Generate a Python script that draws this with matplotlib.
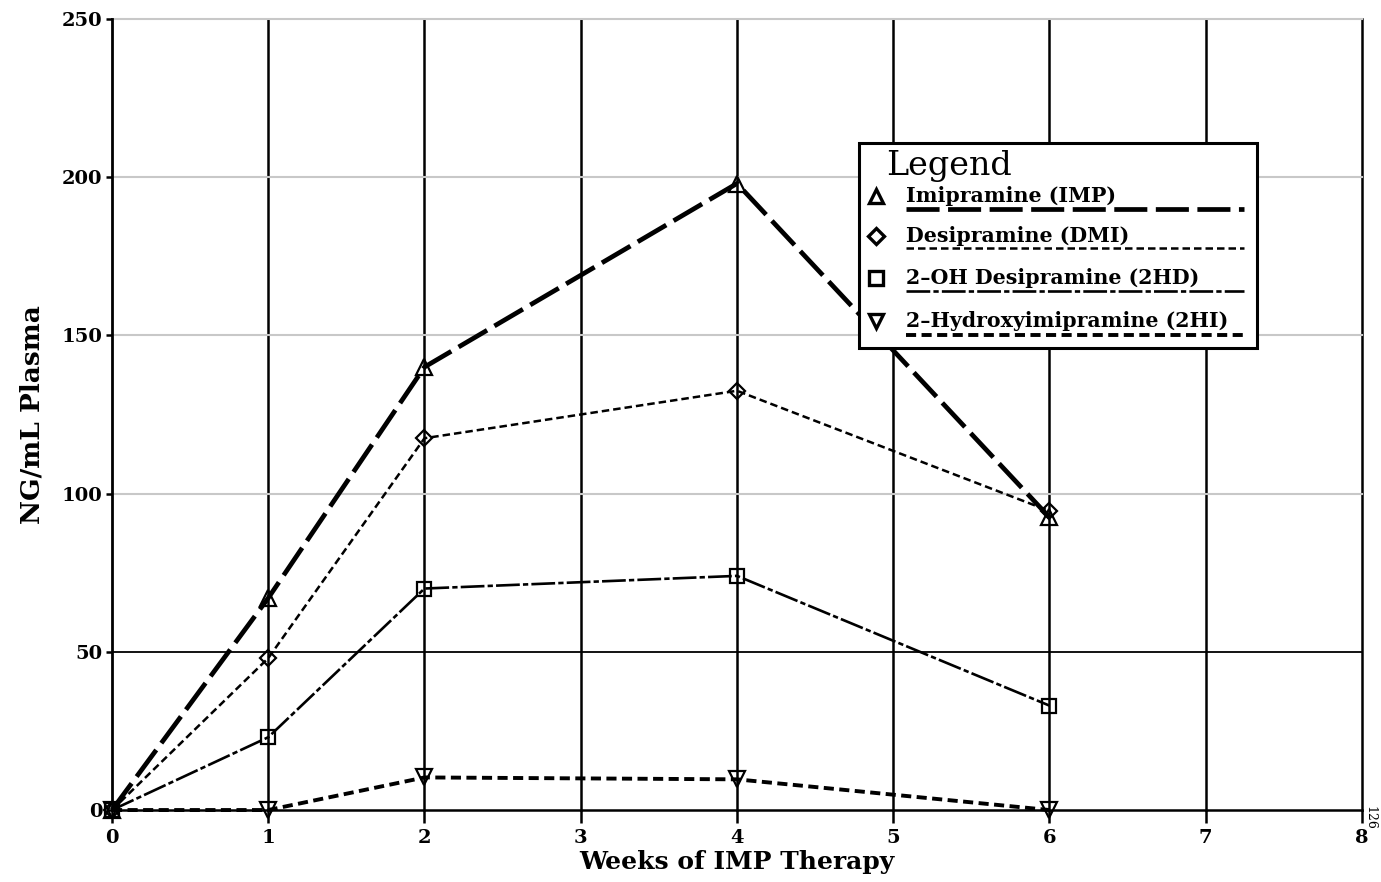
import matplotlib
matplotlib.use("Agg")
import matplotlib.pyplot as plt
from matplotlib.lines import Line2D
from matplotlib.patches import Rectangle

weeks = [0, 1, 2, 4, 6]
imp = [0, 67, 140, 198, 92.5]
dmi = [0, 48, 117.5, 132.5, 94.5]
ohd = [0, 23, 70, 74, 33]
ohi = [0, 0, 10.3, 9.7, 0]

series_names = ["Imipramine (IMP)", "Desipramine (DMI)",
                "2\u2013OH Desipramine (2HD)", "2\u2013Hydroxyimipramine (2HI)"]
x_ticks = [0, 1, 2, 3, 4, 5, 6, 7, 8]
y_ticks = [0, 50, 100, 150, 200, 250]

styles = [
    dict(marker="^", lw=3.4, dashes=(7, 1.8), ms=11),
    dict(marker="D", lw=1.8, dashes=(3, 1.6), ms=8.5),
    dict(marker="s", lw=1.9, dashes=(9, 1.2, 2, 1.2), ms=10.5),
    dict(marker="v", lw=2.8, dashes=(2.6, 1.4), ms=11),
]

serif = "DejaVu Serif"
fig = plt.figure(figsize=(13.81, 8.82), dpi=100)
ax = fig.add_axes([0.0811, 0.0816, 0.9051, 0.8969])
ax.set_xlim(0, 8)
ax.set_ylim(0, 250)

# grid: dark verticals, light horizontals (50 drawn dark)
for xv in x_ticks[1:]:
    ax.axvline(xv, color="black", lw=1.8, zorder=1, clip_on=False)
for yv in y_ticks[1:]:
    if yv == 50:
        ax.axhline(yv, color="black", lw=1.3, zorder=1)
    else:
        ax.axhline(yv, color="#c8c8c8", lw=1.5, zorder=1, clip_on=False)

for s in ["top", "right"]:
    ax.spines[s].set_visible(False)
ax.spines["left"].set_linewidth(2.0)
ax.spines["bottom"].set_linewidth(1.8)

for ys, st in zip([imp, dmi, ohd, ohi], styles):
    ax.plot(weeks, ys, color="black", lw=st["lw"], dashes=st["dashes"],
            marker=st["marker"], ms=st["ms"], mfc="none", mec="black",
            mew=1.6, zorder=3, clip_on=False)

ax.set_xticks(x_ticks)
ax.set_yticks(y_ticks)
ax.tick_params(axis="x", direction="out", length=9, width=1.8, pad=5)
ax.tick_params(axis="y", direction="out", length=4, width=1.8, pad=3)
for lab in ax.get_xticklabels() + ax.get_yticklabels():
    lab.set_fontfamily(serif)
    lab.set_fontweight("heavy")
    lab.set_fontsize(14)

ax.set_xlabel("Weeks of IMP Therapy", fontfamily=serif, fontweight="heavy",
              fontsize=18, labelpad=2)
ax.set_ylabel("NG/mL Plasma", fontfamily=serif, fontweight="heavy",
              fontsize=19, labelpad=12)

# legend panel
bx0, bx1, by0, by1 = 0.598, 0.916, 0.584, 0.843
ax.add_patch(Rectangle((bx0, by0), bx1 - bx0, by1 - by0, transform=ax.transAxes,
                       facecolor="white", edgecolor="black", lw=2.2, zorder=5))
ax.text(0.619, 0.814, "Legend", transform=ax.transAxes, fontfamily=serif,
        fontsize=24, va="center", ha="left", zorder=6)
row_text_y = [0.776, 0.726, 0.672, 0.618]
row_line_y = [0.760, 0.710, 0.656, 0.600]
for name, st, ty, ly in zip(series_names, styles, row_text_y, row_line_y):
    ax.plot([0.611], [ty], transform=ax.transAxes, marker=st["marker"],
            ms=st["ms"] * 0.95, mfc="none", mec="black", mew=2.4,
            ls="none", zorder=6)
    ax.text(0.635, ty, name, transform=ax.transAxes, fontfamily=serif,
            fontweight="bold", fontsize=14.8, va="center", ha="left", zorder=6)
    ax.add_line(Line2D([0.635, 0.906], [ly, ly], transform=ax.transAxes,
                       color="black", lw=st["lw"], dashes=st["dashes"], zorder=6))

fig.text(0.992, 0.073, "126", rotation=-90, fontsize=9, fontfamily=serif,
         ha="center", va="center")

fig.savefig("out.png", dpi=100, facecolor="white")
